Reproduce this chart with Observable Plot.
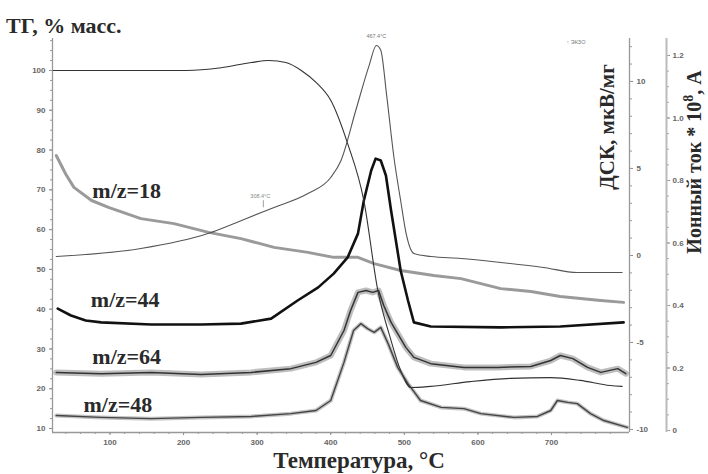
<!DOCTYPE html>
<html><head><meta charset="utf-8">
<script src="https://cdn.jsdelivr.net/npm/d3@7"></script>
<script src="https://cdn.jsdelivr.net/npm/@observablehq/plot@0.6"></script>
<style>
body{margin:0;background:#fff;}
#wrap{position:relative;width:708px;height:474px;overflow:hidden;font-family:"Liberation Serif","Times New Roman",serif;}
.t{position:absolute;font-weight:bold;color:#2a2a2a;white-space:nowrap;line-height:1;}
.rot{transform-origin:center center;transform:translate(-50%,-50%) rotate(-90deg);}
sup{font-size:0.7em;vertical-align:0.55em;line-height:0;}
</style></head><body><div id="wrap"></div>
<script>
// ---- data ----
// TG, % mass
const T_tg = [23, 100, 160, 204, 251, 292, 316, 339, 360, 380, 400, 423, 445, 464, 482, 495, 509, 536, 590, 644, 699, 739, 780, 796];
const TG   = [100, 100, 100, 100, 100.7, 102, 102.5, 102, 100, 97, 92.5, 81.6, 67.3, 44.7, 32.1, 24.6, 20.3, 20.6, 21.8, 22.6, 22.8, 22.1, 20.8, 20.6];
// DSC, mkV/mg
const T_dsc = [27, 142, 233, 278, 323, 369, 400, 414, 434, 452, 462, 468, 476, 486, 495, 503, 513, 536, 577, 631, 689, 735, 796];
const DSC   = [-0.06, 0.4, 1.26, 2.0, 2.76, 3.56, 4.48, 5.46, 8.33, 10.9, 12.07, 11.8, 9.2, 5.6, 3.16, 1.15, 0.11, -0.06, -0.17, -0.4, -0.69, -0.98, -0.98];
// Ion current *10^8, A
const T18 = [27, 40, 51, 75, 98, 142, 187, 234, 278, 323, 369, 404, 437, 459, 495, 540, 577, 631, 672, 712, 767, 798];
const I18 = [0.88, 0.82, 0.778, 0.736, 0.714, 0.678, 0.662, 0.634, 0.614, 0.586, 0.570, 0.554, 0.554, 0.534, 0.512, 0.496, 0.486, 0.454, 0.445, 0.429, 0.416, 0.41];
const T44 = [29, 47, 67, 88, 156, 224, 278, 319, 355, 383, 404, 423, 437, 445, 455, 461, 468, 475, 482, 495, 505, 513, 536, 631, 712, 798];
const I44 = [0.39, 0.368, 0.352, 0.346, 0.339, 0.339, 0.342, 0.358, 0.416, 0.458, 0.502, 0.554, 0.630, 0.736, 0.832, 0.870, 0.864, 0.816, 0.704, 0.512, 0.416, 0.346, 0.333, 0.330, 0.333, 0.346];
const T64 = [27, 88, 156, 224, 292, 346, 380, 400, 418, 427, 437, 448, 457, 465, 472, 482, 491, 502, 513, 536, 581, 627, 672, 699, 712, 729, 749, 767, 790, 801];
const I64 = [0.186, 0.182, 0.186, 0.179, 0.186, 0.198, 0.218, 0.24, 0.32, 0.384, 0.442, 0.448, 0.442, 0.448, 0.40, 0.346, 0.31, 0.266, 0.234, 0.214, 0.202, 0.202, 0.205, 0.224, 0.24, 0.23, 0.202, 0.186, 0.198, 0.182];
const T48 = [27, 88, 156, 224, 292, 346, 380, 400, 418, 431, 441, 450, 459, 468, 478, 491, 505, 522, 550, 581, 604, 649, 681, 699, 708, 722, 735, 753, 771, 803];
const I48 = [0.048, 0.042, 0.038, 0.042, 0.045, 0.054, 0.064, 0.096, 0.218, 0.32, 0.342, 0.326, 0.314, 0.33, 0.278, 0.202, 0.150, 0.096, 0.074, 0.070, 0.054, 0.042, 0.045, 0.064, 0.096, 0.09, 0.086, 0.054, 0.032, 0.01];

// curve labels (T, TG-axis value)
const curveLabels = [
  {text: "m/z=18", T: 76, v: 69.8},
  {text: "m/z=44", T: 74, v: 42.4},
  {text: "m/z=64", T: 76, v: 28.1},
  {text: "m/z=48", T: 64, v: 15.8}
];
const peakLabel = {text: "467.4°C", T: 462, d: 12.07};
const onsetLabel = {text: "308.4°C", T: 308.4, d: 2.6};

// tick values
const xTicks = [100, 200, 300, 400, 500, 600, 700];
const tgTicks = [10, 20, 30, 40, 50, 60, 70, 80, 90, 100];
const dscTicks = [-10, -5, 0, 5, 10];
const ionTicks = [0, 0.2, 0.4, 0.6, 0.8, 1.0, 1.2];

// ---- axes geometry ----
const xDomain = [21.9, 806];
const yDomain = [9.0, 108.04];
const dscY = d => 53.5 + 4.374 * d;   // DSC axis -> TG axis units
const ionY = i => 9.5 + 78.56 * i;    // ion axis -> TG axis units
const dscInv = v => (v - 53.5) / 4.374;
const ionInv = v => (v - 9.5) / 78.56;

const mk = (Ts, Vs, f) => Ts.map((t, i) => ({T: t, v: f ? f(Vs[i]) : Vs[i]}));
const tgData = mk(T_tg, TG);
const dscData = mk(T_dsc, DSC, dscY);
const d18 = mk(T18, I18, ionY);
const d44 = mk(T44, I44, ionY);
const d64 = mk(T64, I64, ionY);
const d48 = mk(T48, I48, ionY);

const xMinor = d3.range(40, 800, 20).filter(v => v > xDomain[0]);
const tgMinor = d3.range(10, 108, 2.5);
const dscMinor = d3.range(-10, 12.5, 1).map(dscY);
const ionMinor = d3.range(0, 1.25, 0.05).map(ionY);

const axisStyle = {fill: "#666", stroke: "#888", fontSize: 8, fontWeight: "bold"};

const chart = Plot.plot({
  width: 708, height: 474,
  marginLeft: 52, marginRight: 79, marginTop: 38, marginBottom: 42,
  x: {domain: xDomain},
  y: {domain: yDomain},
  style: {fontFamily: "Liberation Sans, Arial, sans-serif", background: "transparent", color: "#666"},
  marks: [
    // axis lines
    Plot.ruleX([xDomain[0]], {stroke: "#999", strokeWidth: 1.3}),
    Plot.ruleX([xDomain[1]], {stroke: "#999", strokeWidth: 1.3}),
    Plot.ruleY([yDomain[0]], {stroke: "#999", strokeWidth: 1.3}),
    Plot.ruleX([xDomain[1]], {dx: 37, stroke: "#bbb", strokeWidth: 2}),
    // bottom axis
    Plot.axisX(xTicks, {anchor: "bottom", tickSize: 3, tickPadding: 4, label: null, tickFormat: d => String(d), ...axisStyle}),
    Plot.axisX(xMinor, {anchor: "bottom", tickSize: 2, text: null, label: null, stroke: "#999"}),
    // left TG axis
    Plot.axisY(tgTicks, {anchor: "left", tickSize: 3, tickPadding: 4, label: null, tickFormat: d => String(d), ...axisStyle}),
    Plot.axisY(tgMinor, {anchor: "left", tickSize: 2, text: null, label: null, stroke: "#999"}),
    // DSC axis
    Plot.axisY(dscTicks.map(dscY), {anchor: "right", tickSize: 3, tickPadding: 4, label: null,
      tickFormat: v => String(Math.round(dscInv(v))), ...axisStyle}),
    Plot.axisY(dscMinor, {anchor: "right", tickSize: 2, text: null, label: null, stroke: "#999"}),
    // ion current axis
    Plot.axisY(ionTicks.map(ionY), {anchor: "right", dx: 37, tickSize: 3, tickPadding: 3, label: null,
      tickFormat: v => { const r = Math.round(ionInv(v) * 10) / 10; return r === 0 ? "0" : r.toFixed(1); }, ...axisStyle}),
    Plot.axisY(ionMinor, {anchor: "right", dx: 37, tickSize: 2, text: null, label: null, stroke: "#aaa"}),
    // MS curves
    Plot.line(d48, {x: "T", y: "v", stroke: "#555", strokeWidth: 4, strokeOpacity: 0.35}),
    Plot.line(d48, {x: "T", y: "v", stroke: "#444", strokeWidth: 1.4}),
    Plot.line(d64, {x: "T", y: "v", stroke: "#444", strokeWidth: 6, strokeOpacity: 0.35}),
    Plot.line(d64, {x: "T", y: "v", stroke: "#333", strokeWidth: 1.5}),
    Plot.line(d18, {x: "T", y: "v", stroke: "#9a9a9a", strokeWidth: 3}),
    Plot.line(d44, {x: "T", y: "v", stroke: "#111", strokeWidth: 2.6}),
    // TG and DSC
    Plot.line(tgData, {x: "T", y: "v", stroke: "#333", strokeWidth: 1.1, curve: "monotone-x"}),
    Plot.line(dscData, {x: "T", y: "v", stroke: "#555", strokeWidth: 1.1, curve: "monotone-x"}),
    // annotations
    Plot.text([peakLabel], {x: "T", y: d => dscY(d.d), text: "text", dy: -9, fontSize: 5.5, fill: "#777"}),
    Plot.text([onsetLabel], {x: "T", y: d => dscY(d.d), text: "text", dy: -14, dx: -3, fontSize: 5.5, fill: "#888"}),
    Plot.ruleX([onsetLabel], {x: "T", y1: d => dscY(d.d) + 0.6, y2: d => dscY(d.d) + 2.4, stroke: "#888", strokeWidth: 0.8}),
    Plot.text(["↑ ЭКЗО"], {frameAnchor: "top-right", textAnchor: "start", dx: -63, dy: 2, fontSize: 5.5, fill: "#777"}),
    // curve labels
    Plot.text(curveLabels, {x: "T", y: "v", text: "text", textAnchor: "start", lineAnchor: "middle",
      fontSize: 22, fontWeight: "bold", fontFamily: "Liberation Serif, Times New Roman, serif", fill: "#2a2a2a"})
  ]
});

const wrap = document.getElementById("wrap");
wrap.appendChild(chart);
chart.style.position = "absolute";
chart.style.left = "0px";
chart.style.top = "0px";

function addText(html, css, cls) {
  const d = document.createElement("div");
  d.className = "t" + (cls ? " " + cls : "");
  d.innerHTML = html;
  Object.assign(d.style, css);
  wrap.appendChild(d);
}
addText("ТГ, % масс.", {left: "6px", top: "15px", fontSize: "22px"});
addText("Температура, °С", {left: "359px", top: "449px", fontSize: "23px", transform: "translateX(-50%)"});
addText("ДСК, мкВ/мг", {left: "607px", top: "127px", fontSize: "21px"}, "rot");
addText("Ионный ток * 10<sup>8</sup>, А", {left: "694px", top: "162px", fontSize: "20px"}, "rot");
</script></body></html>
